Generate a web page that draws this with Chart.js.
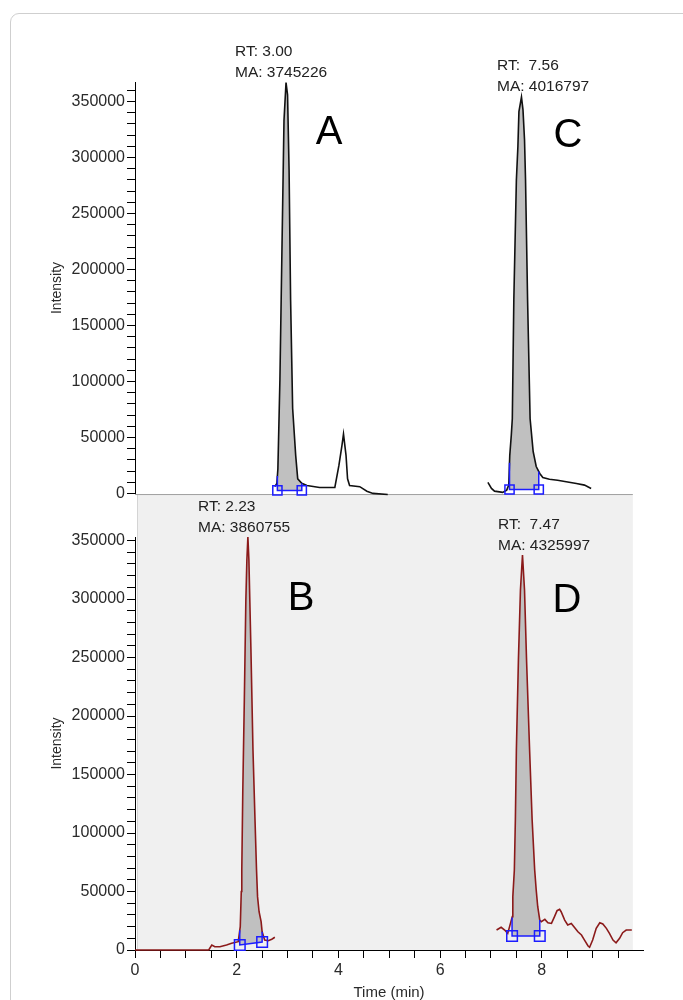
<!DOCTYPE html>
<html>
<head>
<meta charset="utf-8">
<title>Chromatograms</title>
<script src="https://cdn.jsdelivr.net/npm/chart.js@4.4.1/dist/chart.umd.min.js"></script>
<style>
  html, body { margin: 0; padding: 0; background: #fff; }
  body { width: 683px; height: 1000px; position: relative; overflow: hidden; font-family: "Liberation Sans", Arial, sans-serif; }
  .card { position: absolute; left: 10px; top: 13px; width: 700px; height: 1010px; border: 1px solid #cfcfcf; border-radius: 9px; box-sizing: border-box; }
  canvas { position: absolute; left: 0; }
  #bottomChart { top: 480px; }
  #topChart { top: 0; }
  .peak-note { position: absolute; font-size: 15.5px; line-height: 21px; color: #222; white-space: pre; }
  .peak-letter { position: absolute; font-size: 40px; line-height: 40px; color: #000; transform: translate(-50%, -50%); }
</style>
</head>
<body>
<div class="card"></div>
<canvas id="bottomChart" width="683" height="520"></canvas>
<canvas id="topChart" width="683" height="505"></canvas>

<div class="peak-note" style="left:235px; top:40px;">RT: 3.00
MA: 3745226</div>
<div class="peak-note" style="left:497px; top:54px;">RT:  7.56
MA: 4016797</div>
<div class="peak-note" style="left:198px; top:495px;">RT: 2.23
MA: 3860755</div>
<div class="peak-note" style="left:498px; top:513px;">RT:  7.47
MA: 4325997</div>

<div class="peak-letter" style="left:329px; top:130px;">A</div>
<div class="peak-letter" style="left:568px; top:133px;">C</div>
<div class="peak-letter" style="left:301px; top:596px;">B</div>
<div class="peak-letter" style="left:567px; top:598px;">D</div>

<script>
// --- top trace (peaks A and C), time in min / intensity ---
const aTime = [2.75, 2.79, 2.81, 2.85, 2.89, 2.93, 2.97, 3.00, 3.03, 3.06, 3.10, 3.16, 3.20, 3.28, 3.38,
               3.63, 3.93, 4.01, 4.07, 4.10, 4.15, 4.18, 4.22, 4.42, 4.56, 4.68, 4.97];
const aIntensity = [6000, 9000, 22000, 102000, 218000, 333000, 367000, 356000, 289000, 173000, 76000, 34000, 13000, 9000, 7000,
                    5300, 5300, 25000, 43000, 53000, 34000, 13000, 7000, 6000, 2000, 0, -1000];

const cTime = [6.94, 7.01, 7.07, 7.23, 7.31, 7.35, 7.37, 7.40, 7.42, 7.45, 7.50, 7.53, 7.55, 7.60, 7.63,
               7.66, 7.68, 7.72, 7.77, 7.83, 7.89, 7.96, 8.02, 8.15, 8.31, 8.48, 8.68, 8.84, 8.97];
const cIntensity = [9800, 4400, 2000, 900, 2900, 7400, 34000, 52000, 66700, 173500, 280000, 310000, 341000, 354000, 342500,
                    316000, 280000, 173500, 66700, 37400, 24000, 17800, 14200, 12700, 11800, 10400, 8900, 7400, 4400];

// --- bottom trace (peaks B and D) ---
const bTime = [0, 1.45, 1.51, 1.57, 1.67, 1.80, 1.90, 2.03, 2.07, 2.09, 2.10, 2.12, 2.15, 2.18, 2.20,
               2.22, 2.24, 2.28, 2.32, 2.36, 2.39, 2.41, 2.44, 2.48, 2.50, 2.55, 2.62, 2.69, 2.75];
const bIntensity = [0, 0, 4300, 2800, 2800, 4300, 5700, 7100, 20000, 50000, 68400, 136800, 213700, 299100, 333300,
                    353000, 333300, 256400, 170900, 111100, 68400, 45600, 32700, 24200, 15600, 8500, 7900, 9200, 10900];

const dTime = [7.11, 7.20, 7.27, 7.33, 7.42, 7.43, 7.46, 7.48, 7.50, 7.54, 7.58, 7.62, 7.66, 7.70, 7.76,
               7.81, 7.86, 7.89, 7.92, 7.96, 7.99, 8.06, 8.12, 8.19, 8.25, 8.30, 8.35, 8.38, 8.45, 8.51,
               8.58, 8.64, 8.71, 8.78, 8.84, 8.91, 8.94, 9.00, 9.07, 9.14, 9.20, 9.27, 9.33, 9.40, 9.46,
               9.53, 9.59, 9.66, 9.77];
const dIntensity = [17100, 19400, 17100, 14200, 28500, 45600, 68400, 111100, 170900, 247900, 307700, 337600, 307700, 247900, 170900,
                    111100, 68400, 51300, 37000, 25600, 24200, 26200, 23300, 22700, 28500, 33600, 34800, 32700, 25600, 21400,
                    22700, 19400, 15600, 12800, 8500, 3400, 2300, 8500, 18500, 23300, 22200, 18500, 14200, 8500, 6200,
                    10000, 14800, 17100, 17100];

// integration windows [start, end] (min) and baseline level at each end
const aWindow = [2.80, 3.28];   const aBase = [2700, 2700];
const cWindow = [7.365, 7.94];  const cBase = [3500, 3500];
const bWindow = [2.06, 2.50];   const bBase = [4300, 6800];
const dWindow = [7.415, 7.96];  const dBase = [12000, 12000];

// axis ranges and tick steps
const TIME_MAX = 9.99;
const TIME_STEP = 0.5;
const TIME_LABEL_EVERY = 2;
const TOP_MAX = 367000;
const BOTTOM_MAX = 353000;
const INT_STEP = 10000;
const INT_LABEL_EVERY = 50000;
const PANEL_TOP = 389700;   // top edge of the grey frame of the lower plot
const PANEL_END = 9.79;

const FONT = "'Liberation Sans', Arial, sans-serif";
const TEXT = '#2a2a2a';
const BLUE = '#1c1cff';

function toPoints(times, values) {
    return times.map((t, i) => ({ x: t, y: values[i] }));
}

function valueAt(times, values, t) {
    for (let i = 1; i < times.length; i++) {
        if (t <= times[i]) {
            const f = (t - times[i - 1]) / (times[i] - times[i - 1]);
            return values[i - 1] + f * (values[i] - values[i - 1]);
        }
    }
    return values[values.length - 1];
}

// evenly stepped tick list, replaces chart.js's own (it rescales the step when min/max are fixed)
function stepTicks(max, step) {
    const ticks = [];
    for (let i = 0; i * step <= max + 1e-9; i++) {
        ticks.push({ value: Math.round(i * step * 1000) / 1000 });
    }
    return ticks;
}

function peakDatasets(times, values, win, base, lineColor, boxRadius) {
    const [t0, t1] = win;
    const top0 = valueAt(times, values, t0);
    const top1 = valueAt(times, values, t1);
    const inside = toPoints(times, values).filter(p => p.x > t0 && p.x < t1);
    const area = [{ x: t0, y: base[0] }, { x: t0, y: top0 }, ...inside,
                  { x: t1, y: top1 }, { x: t1, y: base[1] }, { x: t0, y: base[0] }];
    return [
        {   // integration markers
            data: [{ x: t0, y: base[0] }, { x: t1, y: base[1] }],
            showLine: false, pointStyle: 'rect', pointRadius: boxRadius,
            pointBorderColor: BLUE, pointBackgroundColor: 'rgba(0,0,0,0)', pointBorderWidth: 1.5,
            clip: false, order: 0
        },
        {   // baseline + boundaries
            data: [{ x: t0, y: top0 }, { x: t0, y: base[0] }, { x: t1, y: base[1] }, { x: t1, y: top1 }],
            borderColor: BLUE, borderWidth: 1.5, pointRadius: 0, fill: false, clip: false, order: 1
        },
        {   // the trace itself
            data: toPoints(times, values),
            borderColor: lineColor, borderWidth: 1.6, pointRadius: 0, fill: false, clip: false, order: 2
        },
        {   // integrated area
            data: area,
            borderWidth: 0, borderColor: 'rgba(0,0,0,0)', backgroundColor: '#c0c0c0',
            pointRadius: 0, fill: 'shape', clip: false, order: 3
        }
    ];
}

function yAxis(max) {
    return {
        type: 'linear',
        min: 0,
        max: max,
        afterFit: scale => { scale.width = 135; },
        afterBuildTicks: scale => { scale.ticks = stepTicks(max, INT_STEP); },
        border: { display: true, color: '#000', width: 1 },
        grid: { drawOnChartArea: false, drawTicks: true, tickLength: 8, tickColor: '#000', tickWidth: 1 },
        ticks: {
            autoSkip: false,
            padding: 2,
            color: TEXT,
            font: { family: FONT, size: 16 },
            callback: v => Math.round(v) % INT_LABEL_EVERY === 0 ? String(Math.round(v)) : ''
        },
        title: {
            display: true,
            text: 'Intensity',
            color: TEXT,
            font: { family: FONT, size: 14, lineHeight: 1 },
            padding: { top: 50, bottom: 0 }
        }
    };
}

const commonOptions = {
    responsive: false,
    animation: false,
    events: [],
    devicePixelRatio: 1,
    plugins: { legend: { display: false }, tooltip: { enabled: false } },
    elements: { line: { tension: 0 } }
};

// grey frame behind the lower plot
const panelPlugin = {
    id: 'panel',
    beforeDraw(chart) {
        const { ctx, chartArea, scales } = chart;
        const x0 = chartArea.left + 2;
        const x1 = scales.x.getPixelForValue(PANEL_END);
        const y0 = scales.y.getPixelForValue(PANEL_TOP);
        const y1 = chartArea.bottom;
        ctx.save();
        ctx.fillStyle = '#f0f0f0';
        ctx.fillRect(x0, y0, x1 - x0, y1 - y0);
        ctx.strokeStyle = '#d4d4d4';
        ctx.lineWidth = 1;
        ctx.beginPath();
        ctx.moveTo(x0 + 0.5, y0);
        ctx.lineTo(x0 + 0.5, y1);
        ctx.stroke();
        ctx.strokeStyle = '#a0a0a0';
        ctx.beginPath();
        ctx.moveTo(chartArea.left, y0 + 0.5);
        ctx.lineTo(x1, y0 + 0.5);
        ctx.stroke();
        ctx.restore();
    }
};

new Chart(document.getElementById('topChart'), {
    type: 'line',
    data: {
        datasets: [
            ...peakDatasets(aTime, aIntensity, aWindow, aBase, '#111', 6.5),
            ...peakDatasets(cTime, cIntensity, cWindow, cBase, '#111', 6.5)
        ]
    },
    options: {
        ...commonOptions,
        layout: { padding: { top: 82.5, bottom: 10, left: 0, right: 40 } },
        scales: {
            x: { type: 'linear', min: 0, max: TIME_MAX, display: false },
            y: yAxis(TOP_MAX)
        }
    }
});

new Chart(document.getElementById('bottomChart'), {
    type: 'line',
    data: {
        datasets: [
            ...peakDatasets(bTime, bIntensity, bWindow, bBase, '#8b1a1a', 7.5),
            ...peakDatasets(dTime, dIntensity, dWindow, dBase, '#8b1a1a', 7.5)
        ]
    },
    options: {
        ...commonOptions,
        layout: { padding: { top: 57, bottom: 0, left: 0, right: 40 } },
        scales: {
            x: {
                type: 'linear',
                min: 0,
                max: TIME_MAX,
                afterFit: scale => { scale.height = 50; },
                afterBuildTicks: scale => { scale.ticks = stepTicks(TIME_MAX, TIME_STEP); },
                border: { display: true, color: '#000', width: 1 },
                grid: { drawOnChartArea: false, drawTicks: true, tickLength: 8, tickColor: '#000', tickWidth: 1 },
                ticks: {
                    autoSkip: false,
                    maxRotation: 0,
                    padding: 3,
                    color: TEXT,
                    font: { family: FONT, size: 16 },
                    callback: v => v % TIME_LABEL_EVERY === 0 ? String(v) : ''
                },
                title: {
                    display: true,
                    text: 'Time (min)',
                    color: TEXT,
                    font: { family: FONT, size: 15, lineHeight: 1 },
                    padding: { top: 0, bottom: 0 }
                }
            },
            y: yAxis(BOTTOM_MAX)
        }
    },
    plugins: [panelPlugin]
});
</script>
</body>
</html>
